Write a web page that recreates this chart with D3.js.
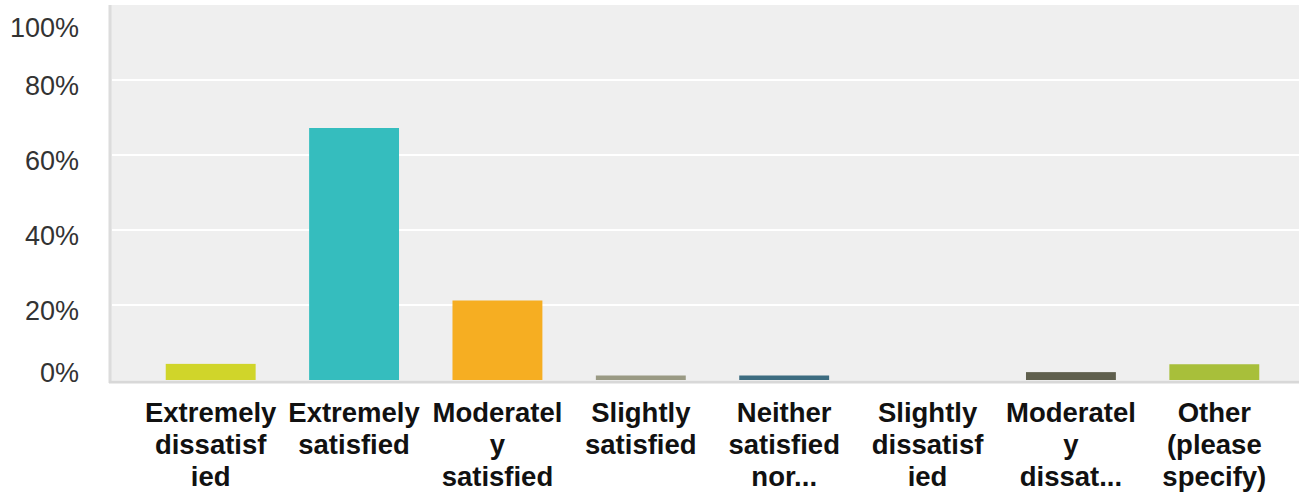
<!DOCTYPE html>
<html><head><meta charset="utf-8">
<script src="https://cdn.jsdelivr.net/npm/d3@7"></script>
<style>html,body{margin:0;padding:0;background:#fff;}svg{display:block;}</style>
</head><body><svg id="c" width="1299" height="496"></svg>
<script>
const categories = ["Extremely dissatisfied","Extremely satisfied","Moderately satisfied","Slightly satisfied","Neither satisfied nor...","Slightly dissatisfied","Moderately dissat...","Other (please specify)"];
const categoryLines = [["Extremely","dissatisf","ied"],["Extremely","satisfied"],["Moderatel","y","satisfied"],["Slightly","satisfied"],["Neither","satisfied","nor..."],["Slightly","dissatisf","ied"],["Moderatel","y","dissat..."],["Other","(please","specify)"]];
const values = [4.3, 67.2, 21.2, 1.2, 1.2, 0, 2.1, 4.2];
const colors = ["#d0d52a","#35bdbe","#f6ae22","#9a9a84","#3d6c80","#8a8a8a","#5f5f4d","#a8bf3a"];
const yTicks = [0,20,40,60,80,100];

const svg = d3.select("#c");
const plotL = 109, plotR = 1299, plotT = 5, plotB = 380;
const y = d3.scaleLinear().domain([0,100]).range([plotB, plotT]);
const x = d3.scaleBand().domain(categories).range([139, 1286]).paddingInner(0.373).paddingOuter(0.1865);

svg.append("rect").attr("x", plotL).attr("y", plotT).attr("width", plotR-plotL).attr("height", plotB-plotT).attr("fill", "#efefef");
svg.append("line").attr("x1", plotL+1).attr("x2", plotL+1).attr("y1", plotT).attr("y2", plotB+3).attr("stroke", "#dcdcdc").attr("stroke-width", 3);

// gridlines
svg.selectAll(".grid").data(yTicks.filter(t => t>0 && t<100)).enter().append("line")
  .attr("x1", plotL+3).attr("x2", plotR).attr("y1", d => y(d)).attr("y2", d => y(d))
  .attr("stroke", "#ffffff").attr("stroke-width", 2);

// bars
svg.selectAll(".bar").data(values).enter().append("rect")
  .attr("x", (d,i) => x(categories[i]))
  .attr("width", x.bandwidth())
  .attr("y", d => y(d))
  .attr("height", d => plotB - y(d))
  .attr("fill", (d,i) => colors[i]);

// x axis line
svg.append("line").attr("x1", plotL).attr("x2", plotR).attr("y1", plotB+2).attr("y2", plotB+2).attr("stroke", "#d8d8d8").attr("stroke-width", 3);

// y tick labels
svg.selectAll(".yl").data(yTicks).enter().append("text")
  .attr("x", 79)
  .attr("y", d => Math.max(27, Math.min(372, y(d)+5)))
  .attr("dy", "0.36em")
  .attr("text-anchor", "end")
  .attr("font-family", "Arial, 'Liberation Sans', sans-serif")
  .attr("font-size", 27)
  .attr("fill", "#333")
  .text(d => d + "%");

// x labels
const xl = svg.selectAll(".xl").data(categories).enter().append("text")
  .attr("text-anchor", "middle")
  .attr("font-family", "Arial, 'Liberation Sans', sans-serif")
  .attr("font-weight", "bold")
  .attr("font-size", 27.5)
  .attr("fill", "#111");
xl.each(function(d,i){
  const t = d3.select(this);
  const cx = x(d) + x.bandwidth()/2;
  categoryLines[i].forEach((ln,j) => {
    t.append("tspan").attr("x", cx).attr("y", 422 + j*32).text(ln);
  });
});
</script></body></html>
